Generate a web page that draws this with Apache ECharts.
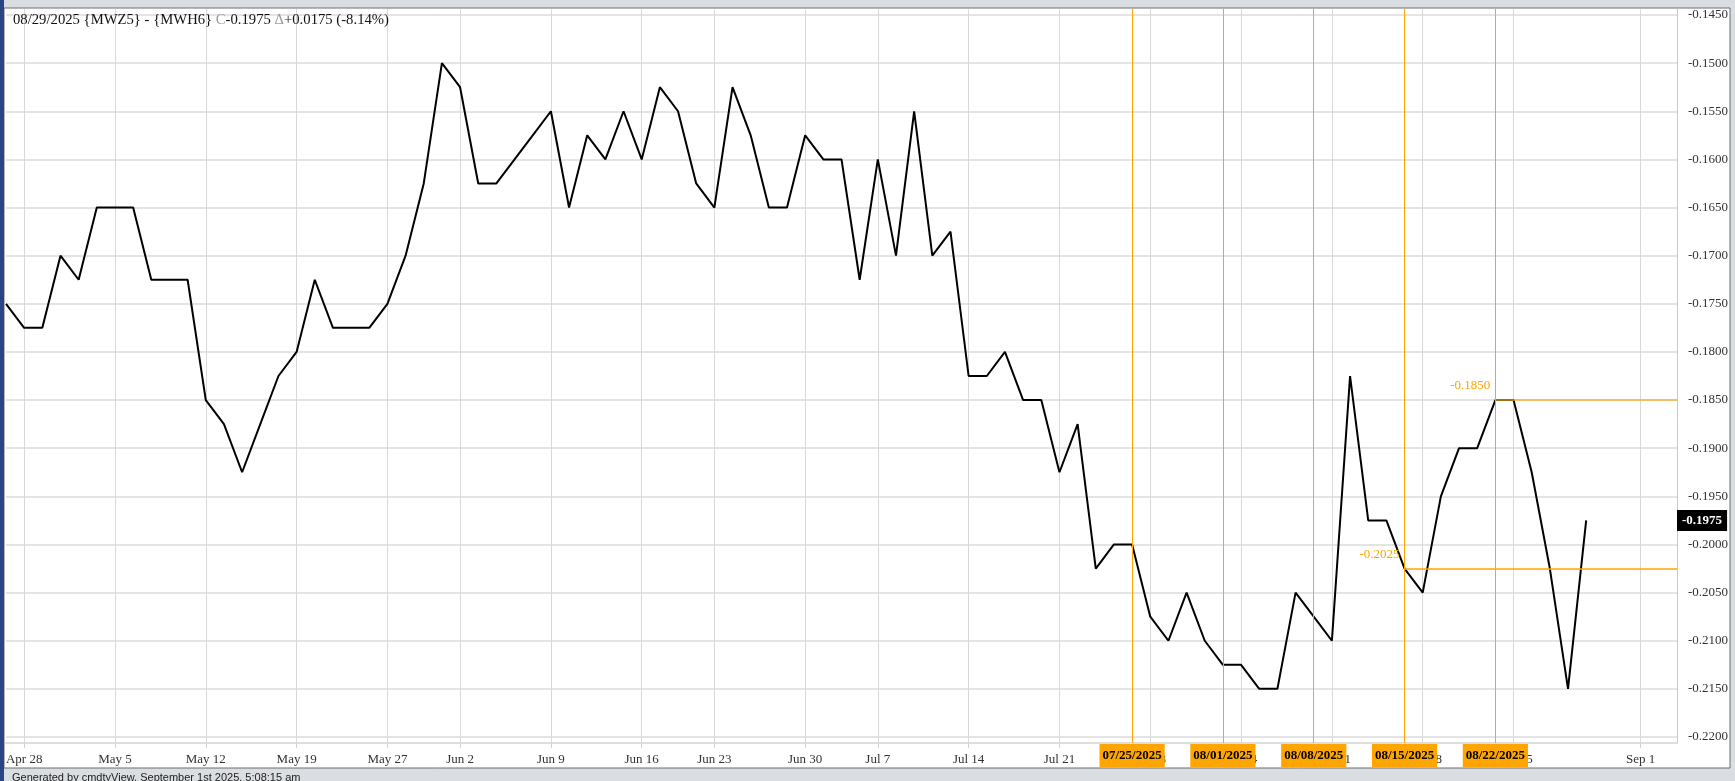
<!DOCTYPE html>
<html>
<head>
<meta charset="utf-8">
<script src="https://cdn.jsdelivr.net/npm/echarts@6/dist/echarts.min.js"></script>
<style>
html,body{margin:0;padding:0;background:#dadde1;}
#chart{width:1735px;height:781px;}
</style>
</head>
<body>
<div id="chart"></div>
<script>
// ---------------- data ----------------
const tradeDates = [
 '04/25','04/28','04/29','04/30',
 '05/01','05/02','05/05','05/06','05/07','05/08','05/09','05/12','05/13','05/14','05/15','05/16',
 '05/19','05/20','05/21','05/22','05/23','05/27','05/28','05/29','05/30',
 '06/02','06/03','06/04','06/05','06/06','06/09','06/10','06/11','06/12','06/13',
 '06/16','06/17','06/18','06/20','06/23','06/24','06/25','06/26','06/27','06/30',
 '07/01','07/02','07/03','07/07','07/08','07/09','07/10','07/11','07/14','07/15','07/16','07/17','07/18',
 '07/21','07/22','07/23','07/24','07/25','07/28','07/29','07/30','07/31',
 '08/01','08/04','08/05','08/06','08/07','08/08','08/11','08/12','08/13','08/14','08/15',
 '08/18','08/19','08/20','08/21','08/22','08/25','08/26','08/27','08/28','08/29'
];
const futureDates = ['08/30','08/31','09/01','09/02','09/03'];
const spreadValues = [
 -0.1750,-0.1775,-0.1775,-0.1700,
 -0.1725,-0.1650,-0.1650,-0.1650,-0.1725,-0.1725,-0.1725,-0.1850,-0.1875,-0.1925,-0.1875,-0.1825,
 -0.1800,-0.1725,-0.1775,-0.1775,-0.1775,-0.1750,-0.1700,-0.1625,-0.1500,
 -0.1525,-0.1625,-0.1625,-0.1600,-0.1575,-0.1550,-0.1650,-0.1575,-0.1600,-0.1550,
 -0.1600,-0.1525,-0.1550,-0.1625,-0.1650,-0.1525,-0.1575,-0.1650,-0.1650,-0.1575,
 -0.1600,-0.1600,-0.1725,-0.1600,-0.1700,-0.1550,-0.1700,-0.1675,-0.1825,-0.1825,-0.1800,-0.1850,-0.1850,
 -0.1925,-0.1875,-0.2025,-0.2000,-0.2000,-0.2075,-0.2100,-0.2050,-0.2100,
 -0.2125,-0.2125,-0.2150,-0.2150,-0.2050,-0.2075,-0.2100,-0.1825,-0.1975,-0.1975,-0.2025,
 -0.2050,-0.1950,-0.1900,-0.1900,-0.1850,-0.1850,-0.1925,-0.2025,-0.2150,-0.1975
];
const tickDates = ['04/28','05/05','05/12','05/19','05/27','06/02','06/09','06/16','06/23','06/30',
 '07/07','07/14','07/21','07/28','08/04','08/11','08/18','08/25','09/01'];
const tickLabels = ['Apr 28','May 5','May 12','May 19','May 27','Jun 2','Jun 9','Jun 16','Jun 23','Jun 30',
 'Jul 7','Jul 14','Jul 21','Jul 28','Aug 4','Aug 11','Aug 18','Aug 25','Sep 1'];
const yMin = -0.2200, yMax = -0.1450, yStep = 0.0050;
const markerDates = ['07/25','08/01','08/08','08/15','08/22'];
const markerLabels = ['07/25/2025','08/01/2025','08/08/2025','08/15/2025','08/22/2025'];
const levelStarts = ['08/22','08/15'];
const levelValues = [-0.1850, -0.2025];
const titleText = '08/29/2025 {MWZ5} - {MWH6} {g|C}-0.1975 {g|\u0394}+0.0175 (-8.14%)';
const footerText = 'Generated by cmdtyView, September 1st 2025, 5:08:15 am';

// ---------------- layout ----------------
const categories = tradeDates.concat(futureDates);
const lastCat = categories[categories.length - 1];
const lastVal = spreadValues[spreadValues.length - 1];
const tickMap = {};
tickDates.forEach((d, i) => tickMap[d] = tickLabels[i]);
const isTick = (idx, val) => tickMap[val] !== undefined;

const W = 1735, H = 781;
const gLeft = 6, gRight = 58;
const mainTop = 15, mainBottom = 44;      // y range of labelled axis (-0.145 .. -0.22)
const frameTop = 9, frameBottom = 38;     // outer plot frame
const mainH = H - mainTop - mainBottom;
const perPx = (yMax - yMin) / mainH;
const fMax = yMax + (mainTop - frameTop) * perPx;
const fMin = yMin - (mainBottom - frameBottom) * perPx;

const serif = 'Liberation Serif';
const orange = '#FFA500';

const chart = echarts.init(document.getElementById('chart'), null, {renderer: 'canvas'});
chart.setOption({
  animation: false,
  backgroundColor: '#dadde1',
  graphic: [
    {type: 'rect', z: -10, shape: {x: 4, y: 8, width: 1726, height: 760}, style: {fill: '#ffffff', stroke: '#6d6d6d', lineWidth: 1}},
    {type: 'rect', z: -9, shape: {x: 0, y: 0, width: 4, height: H}, style: {fill: '#2a4486'}},
    {type: 'text', z: 10, left: 12, top: 772, style: {text: footerText, font: '11px "Liberation Sans"', fill: '#222'}}
  ],
  title: {
    text: titleText, left: 13, top: 13, padding: 0,
    textStyle: {fontFamily: serif, fontSize: 14.7, fontWeight: 'normal', color: '#111',
      rich: {g: {fontFamily: serif, fontSize: 14.7, color: '#9a9a9a'}}}
  },
  grid: [
    {left: gLeft, right: gRight, top: mainTop, bottom: mainBottom},
    {left: gLeft, right: gRight, top: frameTop, bottom: frameBottom}
  ],
  xAxis: [
    {gridIndex: 0, type: 'category', data: categories, boundaryGap: false, show: false},
    {gridIndex: 1, type: 'category', data: categories, boundaryGap: false,
      axisLine: {show: true, lineStyle: {color: '#dedede', width: 2}},
      axisTick: {show: true, interval: isTick, length: 5, lineStyle: {color: '#d4d4d4'}},
      splitLine: {show: true, interval: isTick, lineStyle: {color: '#d9d9d9', width: 1}},
      axisLabel: {show: true, interval: isTick,
        formatter: v => tickMap[v] || '', fontFamily: serif, fontSize: 13, color: '#333', margin: 10}
    }
  ],
  yAxis: [
    {gridIndex: 0, type: 'value', position: 'right', min: yMin, max: yMax, interval: yStep,
      axisLine: {show: false}, axisTick: {show: false},
      splitLine: {show: true, lineStyle: {color: '#e4e4e4', width: 2}},
      axisLabel: {formatter: v => v.toFixed(4), fontFamily: serif, fontSize: 13, color: '#333', margin: 11}
    },
    {gridIndex: 1, type: 'value', position: 'right', min: fMin, max: fMax,
      axisLine: {show: true, lineStyle: {color: '#c9c9c9', width: 1}},
      axisTick: {show: false}, splitLine: {show: false}, axisLabel: {show: false}
    }
  ],
  series: [{
    type: 'line', xAxisIndex: 1, yAxisIndex: 1,
    data: spreadValues, showSymbol: false, symbol: 'none',
    lineStyle: {color: '#000', width: 2}, z: 3,
    markLine: {
      silent: true, symbol: ['none', 'none'], z: 5,
      data: markerDates.map((d, i) => ({
        xAxis: d,
        lineStyle: {color: orange, width: 1, type: 'solid', opacity: 1},
        label: {show: true, position: 'start', distance: 1, formatter: markerLabels[i],
          backgroundColor: orange, color: '#000', fontFamily: serif, fontWeight: 'bold', fontSize: 13,
          padding: [5, 3, 5, 3]}
      })).concat(levelStarts.map((d, i) => ([
        {coord: [d, levelValues[i]], lineStyle: {color: i === 0 ? 'rgba(245,170,30,0.65)' : orange, width: i === 0 ? 2 : 1.5, type: 'solid'}, label: {show: false}},
        {coord: [lastCat, levelValues[i]]}
      ])))
    },
    markPoint: {
      silent: true, symbol: 'circle', symbolSize: 0,
      data: levelStarts.map((d, i) => ({
        coord: [d, levelValues[i]],
        label: {show: true, position: 'left', distance: 5, offset: [0, -14],
          formatter: levelValues[i].toFixed(4), color: orange, fontFamily: serif, fontSize: 13}
      })).concat([{
        coord: [lastCat, lastVal],
        label: {show: true, position: 'right', distance: 0, formatter: lastVal.toFixed(4),
          backgroundColor: '#000', color: '#fff', fontFamily: serif, fontWeight: 'bold', fontSize: 13,
          padding: [4, 5, 4, 5]}
      }])
    }
  }]
});
</script>
</body>
</html>
